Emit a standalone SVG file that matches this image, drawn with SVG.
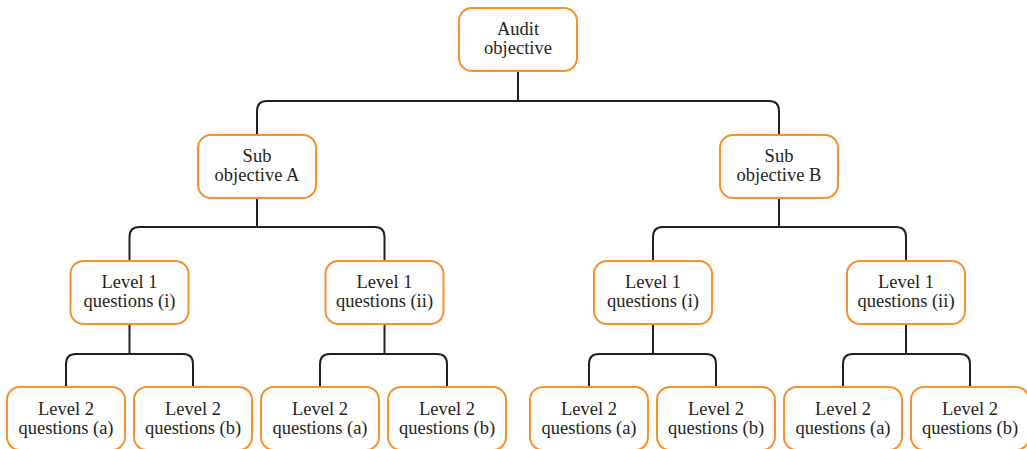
<svg xmlns="http://www.w3.org/2000/svg" width="1027" height="449" viewBox="0 0 1027 449">
<style>
.box{fill:#fff;stroke:#F7902F;stroke-width:2}
.t{font-family:"Liberation Serif","Times New Roman",serif;font-size:18.5px;fill:#231F20;text-anchor:middle}
.c{fill:none;stroke:#231F20;stroke-width:2}
</style>
<rect width="1027" height="449" fill="#fff"/>
<g id="connectors">
<path class="c" d="M518,71V101"/>
<path class="c" d="M257,135V111Q257,101 267,101H769Q779,101 779,111V135"/>
<path class="c" d="M257,198V227"/>
<path class="c" d="M129.5,261V237Q129.5,227 139.5,227H374.5Q384.5,227 384.5,237V261"/>
<path class="c" d="M779,198V227"/>
<path class="c" d="M653,261V237Q653,227 663,227H896Q906,227 906,237V261"/>
<path class="c" d="M129.5,324V354"/>
<path class="c" d="M66,387V364Q66,354 76,354H183Q193,354 193,364V387"/>
<path class="c" d="M384.5,324V354"/>
<path class="c" d="M320,387V364Q320,354 330,354H437Q447,354 447,364V387"/>
<path class="c" d="M653,324V354"/>
<path class="c" d="M589,387V364Q589,354 599,354H706Q716,354 716,364V387"/>
<path class="c" d="M906,324V354"/>
<path class="c" d="M843,387V364Q843,354 853,354H960Q970,354 970,364V387"/>
</g>
<g id="audit"><rect class="box" x="459" y="8" width="118" height="63" rx="13"/><text class="t" x="518" y="35">Audit</text><text class="t" x="518" y="54">objective</text></g>
<g id="subA"><rect class="box" x="198" y="135" width="118" height="63" rx="13"/><text class="t" x="257" y="162">Sub</text><text class="t" x="257" y="181">objective A</text></g>
<g id="subB"><rect class="box" x="720" y="135" width="118" height="63" rx="13"/><text class="t" x="779" y="162">Sub</text><text class="t" x="779" y="181">objective B</text></g>
<g id="l1Ai"><rect class="box" x="70.5" y="261" width="118" height="63" rx="13"/><text class="t" x="129.5" y="288">Level 1</text><text class="t" x="129.5" y="307">questions (i)</text></g>
<g id="l1Aii"><rect class="box" x="325.5" y="261" width="118" height="63" rx="13"/><text class="t" x="384.5" y="288">Level 1</text><text class="t" x="384.5" y="307">questions (ii)</text></g>
<g id="l1Bi"><rect class="box" x="594" y="261" width="118" height="63" rx="13"/><text class="t" x="653" y="288">Level 1</text><text class="t" x="653" y="307">questions (i)</text></g>
<g id="l1Bii"><rect class="box" x="847" y="261" width="118" height="63" rx="13"/><text class="t" x="906" y="288">Level 1</text><text class="t" x="906" y="307">questions (ii)</text></g>
<g id="l2Aia"><rect class="box" x="7" y="387" width="118" height="63" rx="13"/><text class="t" x="66" y="415">Level 2</text><text class="t" x="66" y="434">questions (a)</text></g>
<g id="l2Aib"><rect class="box" x="134" y="387" width="118" height="63" rx="13"/><text class="t" x="193" y="415">Level 2</text><text class="t" x="193" y="434">questions (b)</text></g>
<g id="l2Aiia"><rect class="box" x="261" y="387" width="118" height="63" rx="13"/><text class="t" x="320" y="415">Level 2</text><text class="t" x="320" y="434">questions (a)</text></g>
<g id="l2Aiib"><rect class="box" x="388" y="387" width="118" height="63" rx="13"/><text class="t" x="447" y="415">Level 2</text><text class="t" x="447" y="434">questions (b)</text></g>
<g id="l2Bia"><rect class="box" x="530" y="387" width="118" height="63" rx="13"/><text class="t" x="589" y="415">Level 2</text><text class="t" x="589" y="434">questions (a)</text></g>
<g id="l2Bib"><rect class="box" x="657" y="387" width="118" height="63" rx="13"/><text class="t" x="716" y="415">Level 2</text><text class="t" x="716" y="434">questions (b)</text></g>
<g id="l2Biia"><rect class="box" x="784" y="387" width="118" height="63" rx="13"/><text class="t" x="843" y="415">Level 2</text><text class="t" x="843" y="434">questions (a)</text></g>
<g id="l2Biib"><rect class="box" x="911" y="387" width="118" height="63" rx="13"/><text class="t" x="970" y="415">Level 2</text><text class="t" x="970" y="434">questions (b)</text></g>
</svg>
